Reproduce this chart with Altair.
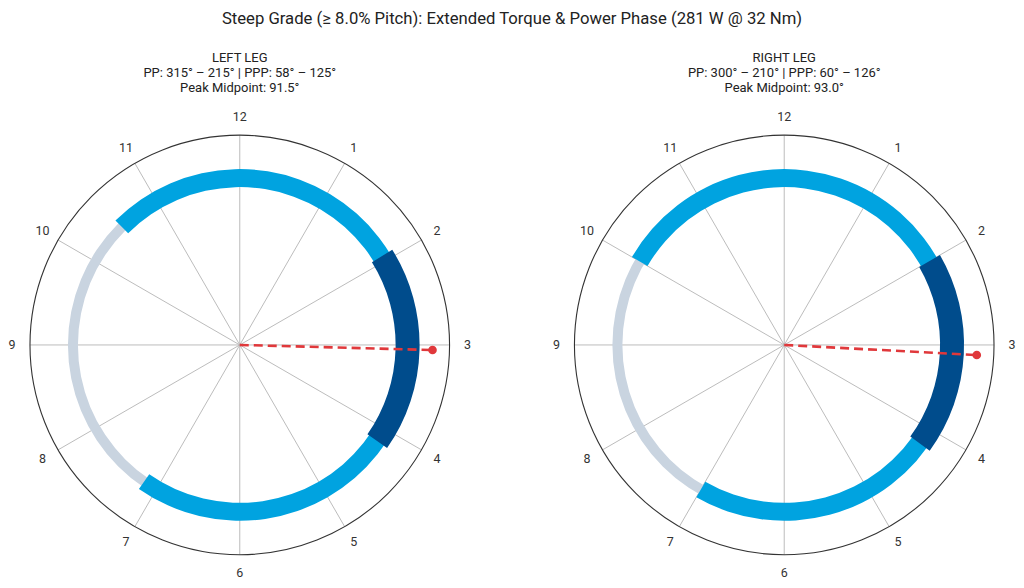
import math
import altair as alt
import pandas as pd

# ---- data ----
legs = ["LEFT LEG", "RIGHT LEG"]
pp_start = [315, 300]
pp_end = [215, 210]
ppp_start = [58, 60]
ppp_end = [125, 126]
peak_mid = [91.5, 93.0]
hours = [1, 2, 3, 4, 5, 6, 7, 8, 9, 10, 11, 12]

FONT = "Roboto"
HALF = 230  # half extent of each square panel, in px
R_OUT = 210
R_LABEL = 228
R_PEAK = 193


def panel(i):
    s, e = pp_start[i], pp_end[i]
    if e < s:
        e += 360
    arcs_pp = pd.DataFrame({"a0": [s], "a1": [e]})
    arcs_ppp = pd.DataFrame({"a0": [ppp_start[i]], "a1": [ppp_end[i]]})
    ring = pd.DataFrame({"a0": [0], "a1": [360]})
    spokes = pd.DataFrame({"a": [h * 30 for h in hours]})
    labels = pd.DataFrame({"a": [h * 30 for h in hours], "lab": [str(h) for h in hours]})
    peak = pd.DataFrame({"a": [peak_mid[i]]})

    xs = alt.Scale(domain=[-HALF, HALF], range=[0, 2 * HALF], nice=False, zero=False)
    ys = alt.Scale(domain=[-HALF, HALF], range=[2 * HALF, 0], nice=False, zero=False)

    def arc_layer(df, r_in, r_out, color):
        return (
            alt.Chart(df)
            .transform_calculate(t0="datum.a0*PI/180", t1="datum.a1*PI/180")
            .mark_arc(radius=r_out, radius2=r_in, color=color, strokeWidth=0)
            .encode(theta=alt.Theta("t0:Q", scale=None), theta2="t1:Q")
        )

    outer = (
        alt.Chart(ring)
        .transform_calculate(t0="datum.a0*PI/180", t1="datum.a1*PI/180")
        .mark_arc(radius=R_OUT, radius2=0, fillOpacity=0, stroke="#333333", strokeWidth=1.1)
        .encode(theta=alt.Theta("t0:Q", scale=None), theta2="t1:Q")
    )

    spoke_layer = (
        alt.Chart(spokes)
        .transform_calculate(
            x0="0", y0="0",
            x1=f"{R_OUT}*sin(datum.a*PI/180)",
            y1=f"{R_OUT}*cos(datum.a*PI/180)",
        )
        .mark_rule(color="#b4b4b4", strokeWidth=0.9)
        .encode(
            x=alt.X("x0:Q", scale=xs, axis=None),
            y=alt.Y("y0:Q", scale=ys, axis=None),
            x2="x1:Q",
            y2="y1:Q",
        )
    )

    label_layer = (
        alt.Chart(labels)
        .transform_calculate(
            lx=f"{R_LABEL}*sin(datum.a*PI/180)",
            ly=f"{R_LABEL}*cos(datum.a*PI/180)",
        )
        .mark_text(font=FONT, fontSize=12.5, color="#333333", baseline="middle", align="center")
        .encode(
            x=alt.X("lx:Q", scale=xs, axis=None),
            y=alt.Y("ly:Q", scale=ys, axis=None),
            text="lab:N",
        )
    )

    peak_line = (
        alt.Chart(peak)
        .transform_calculate(
            x0="0", y0="0",
            x1=f"{R_PEAK}*sin(datum.a*PI/180)",
            y1=f"{R_PEAK}*cos(datum.a*PI/180)",
        )
        .mark_rule(color="#e0383b", strokeWidth=2.6, strokeDash=[9, 5])
        .encode(
            x=alt.X("x0:Q", scale=xs, axis=None),
            y=alt.Y("y0:Q", scale=ys, axis=None),
            x2="x1:Q",
            y2="y1:Q",
        )
    )
    peak_dot = (
        alt.Chart(peak)
        .transform_calculate(
            x1=f"{R_PEAK}*sin(datum.a*PI/180)",
            y1=f"{R_PEAK}*cos(datum.a*PI/180)",
        )
        .mark_point(filled=True, shape="circle", size=75, color="#e0383b", opacity=1)
        .encode(
            x=alt.X("x1:Q", scale=xs, axis=None),
            y=alt.Y("y1:Q", scale=ys, axis=None),
        )
    )

    title_lines = [
        legs[i],
        f"PP: {pp_start[i]}° – {pp_end[i]}° | PPP: {ppp_start[i]}° – {ppp_end[i]}°",
        f"Peak Midpoint: {peak_mid[i]:.1f}°",
    ]

    return alt.layer(
        spoke_layer,
        outer,
        arc_layer(ring, 162, 172, "#c9d4e0"),
        arc_layer(arcs_pp, 158, 176, "#00a3e0"),
        arc_layer(arcs_ppp, 156, 180, "#004c8c"),
        peak_line,
        peak_dot,
        label_layer,
    ).properties(
        width=2 * HALF,
        height=2 * HALF,
        view=alt.ViewBackground(stroke="transparent", strokeWidth=0),
        title=alt.TitleParams(
            text=title_lines,
            font=FONT,
            fontSize=13,
            fontWeight="normal",
            lineHeight=15,
            color="#222222",
            anchor="middle",
            offset=16,
        ),
    )


chart = (
    alt.hconcat(panel(0), panel(1), spacing=81)
    .properties(
        padding={"top": 2, "left": 0, "right": 0, "bottom": 0},
        title=alt.TitleParams(
            text="Steep Grade (≥ 8.0% Pitch): Extended Torque & Power Phase (281 W @ 32 Nm)",
            font=FONT,
            fontSize=16.7,
            fontWeight="normal",
            color="#222222",
            anchor="middle",
            offset=25,
        ),
    )
    .configure_view(strokeWidth=0, stroke="transparent")
    .configure(background="white")
)

chart.save("out.html", embed_options={"renderer": "svg", "actions": False})
